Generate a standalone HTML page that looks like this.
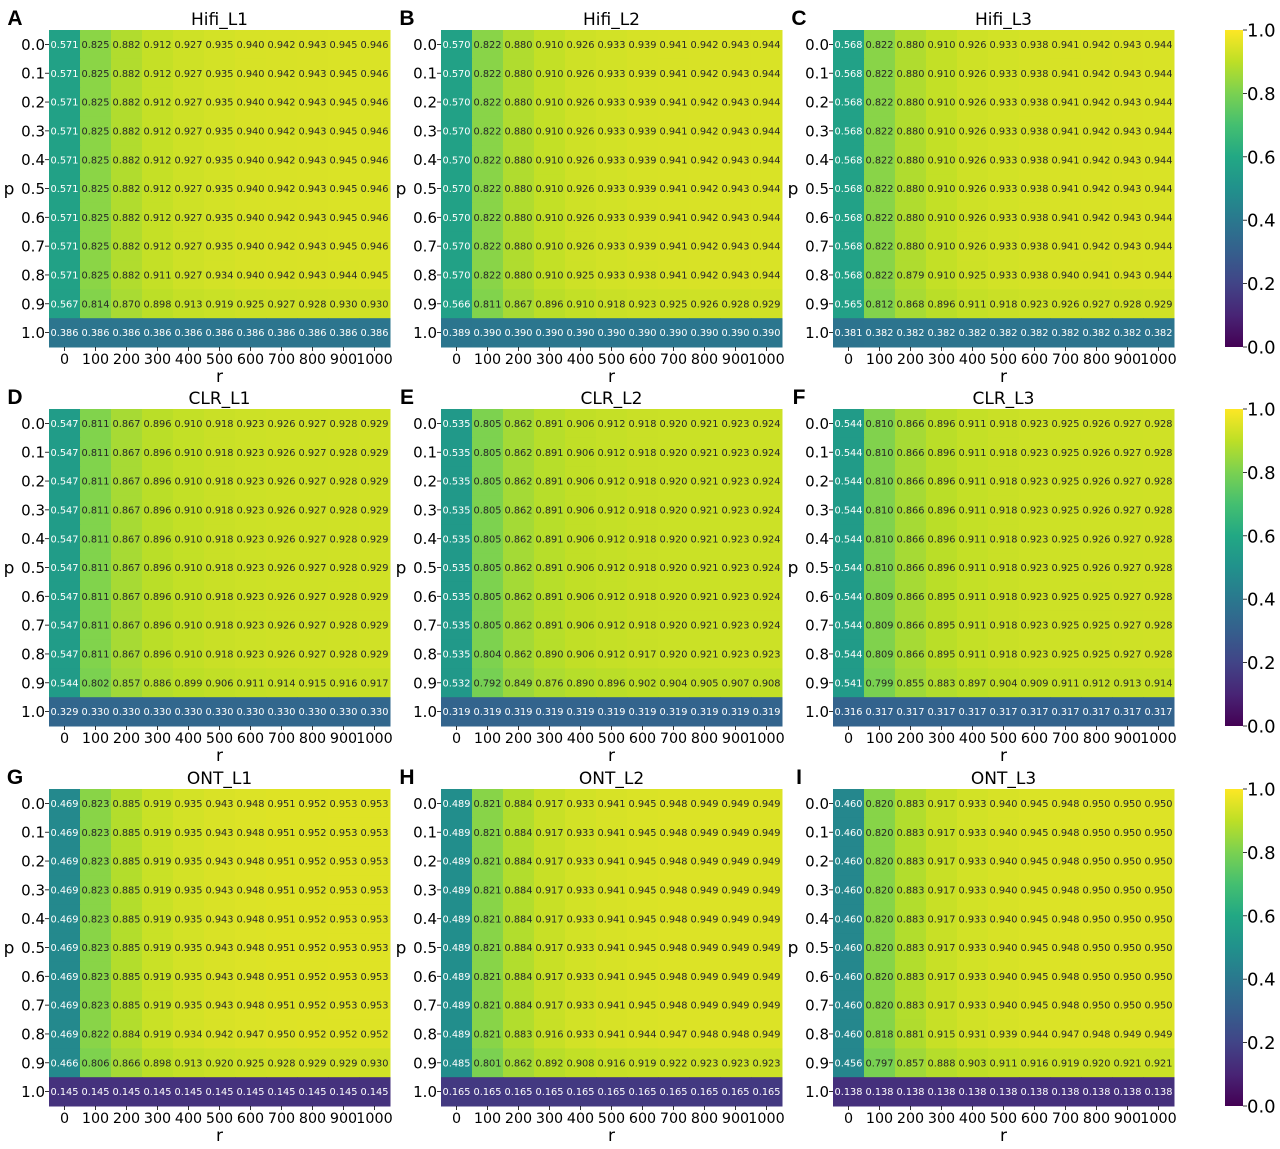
<!DOCTYPE html>
<html><head><meta charset="utf-8"><style>
html,body{margin:0;padding:0;background:#fff;}
svg{display:block;font-family:"DejaVu Sans","Liberation Sans",sans-serif;}
</style></head><body>
<svg id="fig" width="1280" height="1149" viewBox="0 0 1280 1149" xmlns="http://www.w3.org/2000/svg">
<defs>
<linearGradient id="vir" x1="0" y1="1" x2="0" y2="0">
<stop offset="0" stop-color="#440154"/><stop offset="0.1" stop-color="#482475"/><stop offset="0.2" stop-color="#414487"/><stop offset="0.3" stop-color="#355f8d"/><stop offset="0.4" stop-color="#2a788e"/><stop offset="0.5" stop-color="#21918c"/><stop offset="0.6" stop-color="#22a884"/><stop offset="0.7" stop-color="#44bf70"/><stop offset="0.8" stop-color="#7ad151"/><stop offset="0.9" stop-color="#bddf26"/><stop offset="1" stop-color="#fde725"/>
</linearGradient>
</defs>
</svg>
<script>
const rLabels = ["0","100","200","300","400","500","600","700","800","900","1000"];
const pLabels = ["0.0","0.1","0.2","0.3","0.4","0.5","0.6","0.7","0.8","0.9","1.0"];
const cbTicks = [0.0,0.2,0.4,0.6,0.8,1.0];
const panelTitles = ["Hifi_L1","Hifi_L2","Hifi_L3","CLR_L1","CLR_L2","CLR_L3","ONT_L1","ONT_L2","ONT_L3"];
const panelLetters = ["A","B","C","D","E","F","G","H","I"];

const hifiL1Main = [0.571,0.825,0.882,0.912,0.927,0.935,0.940,0.942,0.943,0.945,0.946];
const hifiL1R08 = [0.571,0.825,0.882,0.911,0.927,0.934,0.940,0.942,0.943,0.944,0.945];
const hifiL1R09 = [0.567,0.814,0.870,0.898,0.913,0.919,0.925,0.927,0.928,0.930,0.930];
const hifiL1R10 = [0.386,0.386,0.386,0.386,0.386,0.386,0.386,0.386,0.386,0.386,0.386];

const hifiL2Main = [0.570,0.822,0.880,0.910,0.926,0.933,0.939,0.941,0.942,0.943,0.944];
const hifiL2R08 = [0.570,0.822,0.880,0.910,0.925,0.933,0.938,0.941,0.942,0.943,0.944];
const hifiL2R09 = [0.566,0.811,0.867,0.896,0.910,0.918,0.923,0.925,0.926,0.928,0.929];
const hifiL2R10 = [0.389,0.390,0.390,0.390,0.390,0.390,0.390,0.390,0.390,0.390,0.390];

const hifiL3Main = [0.568,0.822,0.880,0.910,0.926,0.933,0.938,0.941,0.942,0.943,0.944];
const hifiL3R08 = [0.568,0.822,0.879,0.910,0.925,0.933,0.938,0.940,0.941,0.943,0.944];
const hifiL3R09 = [0.565,0.812,0.868,0.896,0.911,0.918,0.923,0.926,0.927,0.928,0.929];
const hifiL3R10 = [0.381,0.382,0.382,0.382,0.382,0.382,0.382,0.382,0.382,0.382,0.382];

const clrL1Main = [0.547,0.811,0.867,0.896,0.910,0.918,0.923,0.926,0.927,0.928,0.929];
const clrL1R09 = [0.544,0.802,0.857,0.886,0.899,0.906,0.911,0.914,0.915,0.916,0.917];
const clrL1R10 = [0.329,0.330,0.330,0.330,0.330,0.330,0.330,0.330,0.330,0.330,0.330];

const clrL2Main = [0.535,0.805,0.862,0.891,0.906,0.912,0.918,0.920,0.921,0.923,0.924];
const clrL2R08 = [0.535,0.804,0.862,0.890,0.906,0.912,0.917,0.920,0.921,0.923,0.923];
const clrL2R09 = [0.532,0.792,0.849,0.876,0.890,0.896,0.902,0.904,0.905,0.907,0.908];
const clrL2R10 = [0.319,0.319,0.319,0.319,0.319,0.319,0.319,0.319,0.319,0.319,0.319];

const clrL3Main = [0.544,0.810,0.866,0.896,0.911,0.918,0.923,0.925,0.926,0.927,0.928];
const clrL3R06 = [0.544,0.809,0.866,0.895,0.911,0.918,0.923,0.925,0.925,0.927,0.928];
const clrL3R09 = [0.541,0.799,0.855,0.883,0.897,0.904,0.909,0.911,0.912,0.913,0.914];
const clrL3R10 = [0.316,0.317,0.317,0.317,0.317,0.317,0.317,0.317,0.317,0.317,0.317];

const ontL1Main = [0.469,0.823,0.885,0.919,0.935,0.943,0.948,0.951,0.952,0.953,0.953];
const ontL1R08 = [0.469,0.822,0.884,0.919,0.934,0.942,0.947,0.950,0.952,0.952,0.952];
const ontL1R09 = [0.466,0.806,0.866,0.898,0.913,0.920,0.925,0.928,0.929,0.929,0.930];
const ontL1R10 = [0.145,0.145,0.145,0.145,0.145,0.145,0.145,0.145,0.145,0.145,0.145];

const ontL2Main = [0.489,0.821,0.884,0.917,0.933,0.941,0.945,0.948,0.949,0.949,0.949];
const ontL2R08 = [0.489,0.821,0.883,0.916,0.933,0.941,0.944,0.947,0.948,0.948,0.949];
const ontL2R09 = [0.485,0.801,0.862,0.892,0.908,0.916,0.919,0.922,0.923,0.923,0.923];
const ontL2R10 = [0.165,0.165,0.165,0.165,0.165,0.165,0.165,0.165,0.165,0.165,0.165];

const ontL3Main = [0.460,0.820,0.883,0.917,0.933,0.940,0.945,0.948,0.950,0.950,0.950];
const ontL3R08 = [0.460,0.818,0.881,0.915,0.931,0.939,0.944,0.947,0.948,0.949,0.949];
const ontL3R09 = [0.456,0.797,0.857,0.888,0.903,0.911,0.916,0.919,0.920,0.921,0.921];
const ontL3R10 = [0.138,0.138,0.138,0.138,0.138,0.138,0.138,0.138,0.138,0.138,0.138];

const M = (a,b,c,d,e,f,g,h,i,j,k)=>[a,b,c,d,e,f,g,h,i,j,k];
const panelData = [
  M(hifiL1Main,hifiL1Main,hifiL1Main,hifiL1Main,hifiL1Main,hifiL1Main,hifiL1Main,hifiL1Main,hifiL1R08,hifiL1R09,hifiL1R10),
  M(hifiL2Main,hifiL2Main,hifiL2Main,hifiL2Main,hifiL2Main,hifiL2Main,hifiL2Main,hifiL2Main,hifiL2R08,hifiL2R09,hifiL2R10),
  M(hifiL3Main,hifiL3Main,hifiL3Main,hifiL3Main,hifiL3Main,hifiL3Main,hifiL3Main,hifiL3Main,hifiL3R08,hifiL3R09,hifiL3R10),
  M(clrL1Main,clrL1Main,clrL1Main,clrL1Main,clrL1Main,clrL1Main,clrL1Main,clrL1Main,clrL1Main,clrL1R09,clrL1R10),
  M(clrL2Main,clrL2Main,clrL2Main,clrL2Main,clrL2Main,clrL2Main,clrL2Main,clrL2Main,clrL2R08,clrL2R09,clrL2R10),
  M(clrL3Main,clrL3Main,clrL3Main,clrL3Main,clrL3Main,clrL3Main,clrL3R06,clrL3R06,clrL3R06,clrL3R09,clrL3R10),
  M(ontL1Main,ontL1Main,ontL1Main,ontL1Main,ontL1Main,ontL1Main,ontL1Main,ontL1Main,ontL1R08,ontL1R09,ontL1R10),
  M(ontL2Main,ontL2Main,ontL2Main,ontL2Main,ontL2Main,ontL2Main,ontL2Main,ontL2Main,ontL2R08,ontL2R09,ontL2R10),
  M(ontL3Main,ontL3Main,ontL3Main,ontL3Main,ontL3Main,ontL3Main,ontL3Main,ontL3Main,ontL3R08,ontL3R09,ontL3R10)
];

const VIR = ["#440154","#482475","#414487","#355f8d","#2a788e","#21918c","#22a884","#44bf70","#7ad151","#bddf26","#fde725"];
function hex(h){return [parseInt(h.substr(1,2),16),parseInt(h.substr(3,2),16),parseInt(h.substr(5,2),16)];}
function viridis(v){
  v=Math.max(0,Math.min(1,v));
  const t=v*10, i=Math.min(9,Math.floor(t)), f=t-i;
  const a=hex(VIR[i]), b=hex(VIR[i+1]);
  return "rgb("+a.map((x,k)=>Math.round(x+(b[k]-x)*f)).join(",")+")";
}
const NS="http://www.w3.org/2000/svg";
const svg=document.getElementById("fig");
function el(tag,attrs,parent,txt){
  const e=document.createElementNS(NS,tag);
  for(const k in attrs) e.setAttribute(k,attrs[k]);
  if(txt!==undefined) e.textContent=txt;
  (parent||svg).appendChild(e);
  return e;
}
const colX=[49,441,833], rowY=[30,409,789];
const W=341, H=317;
for(let pi=0;pi<9;pi++){
  const x0=colX[pi%3], y0=rowY[Math.floor(pi/3)];
  const g=el("g",{});
  
  
  const data=panelData[pi];
  const nr=data.length, nc=data[0].length;
  const cw=W/nc, rh=H/nr;
  const xScale=j=>x0+j*cw, yScale=i=>y0+i*rh;
  for(let i=0;i<nr;i++){
    for(let j=0;j<nc;j++){
      const v=data[i][j];
      const r=el("rect",{x:xScale(j),y:yScale(i),width:cw+0.5,height:rh+0.5,fill:viridis(v)},g);
      
      
      const t=el("text",{x:xScale(j)+cw/2,y:yScale(i)+rh/2+3.6,"text-anchor":"middle","font-size":"9.8",fill:v<0.65?"#ffffff":"#262626"},g,v.toFixed(3));
      
      
    }
  }
  for(let i=0;i<nr;i++){
    el("line",{x1:x0-4,x2:x0,y1:yScale(i)+rh/2,y2:yScale(i)+rh/2,stroke:"#000","stroke-width":0.8},g);
    const t=el("text",{x:x0-4,y:yScale(i)+rh/2+5.5,"text-anchor":"end","font-size":"15",fill:"#000"},g,pLabels[i]);
    
    
  }
  for(let j=0;j<nc;j++){
    el("line",{x1:xScale(j)+cw/2,x2:xScale(j)+cw/2,y1:y0+H,y2:y0+H+4,stroke:"#000","stroke-width":0.8},g);
    const t=el("text",{x:xScale(j)+cw/2,y:y0+H+17,"text-anchor":"middle","font-size":"14.3",fill:"#000"},g,rLabels[j]);
    
    
  }
  const xt=el("text",{x:x0+W/2,y:y0+H+35,"text-anchor":"middle","font-size":"17",fill:"#000"},g,"r");
  
  
  const yt=el("text",{x:x0-40,y:y0+H/2+6,"text-anchor":"middle","font-size":"17",fill:"#000"},g,"p");
  
  
  const tt=el("text",{x:x0+W/2,y:y0-5,"text-anchor":"middle","font-size":"17",fill:"#000"},g,panelTitles[pi]);
  
  
  const lt=el("text",{x:x0-34,y:y0-5,"text-anchor":"middle","font-size":"21","font-weight":"bold","font-family":"Liberation Sans, sans-serif",fill:"#000"},g,panelLetters[pi]);
  
  
}
for(let k=0;k<3;k++){
  const y0=rowY[k], x0=1225, w=18;
  const g=el("g",{});
  
  
  el("rect",{x:x0,y:y0,width:w,height:H,fill:"url(#vir)"},g);
  cbTicks.forEach(tv=>{
    const yy=y0+H-tv*H;
    el("line",{x1:x0+w,x2:x0+w+4,y1:yy,y2:yy,stroke:"#000","stroke-width":0.8},g);
    const t=el("text",{x:x0+w+4,y:yy+6.5,"font-size":"18",fill:"#000"},g,tv.toFixed(1));
    
    
  });
}
</script>
</body></html>
